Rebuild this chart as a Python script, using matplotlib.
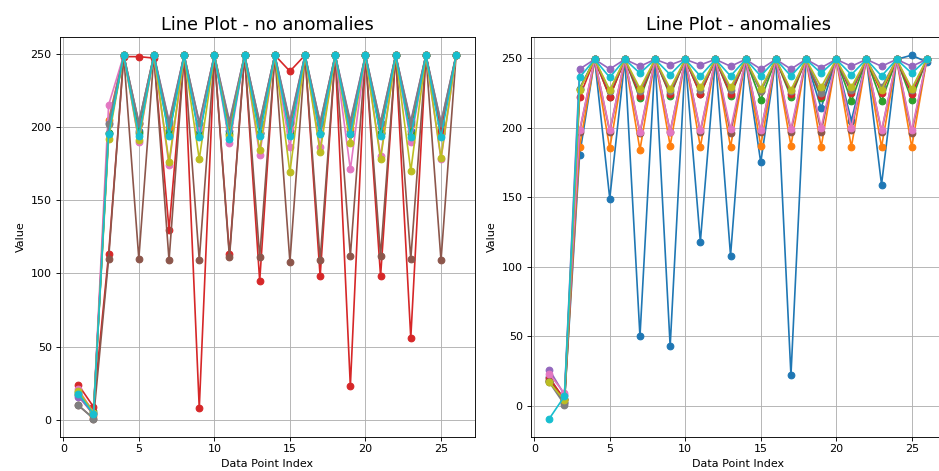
import numpy as np
import matplotlib
matplotlib.use('Agg')
import matplotlib.pyplot as plt

x = list(range(1, 27))

# no anomalies - one list per series (tab10 order)
normal_blue = [17, 5, 196, 249, 197, 249, 198, 249, 196, 249, 197, 249, 196, 249, 197, 249, 196, 249, 197, 249, 196, 249, 197, 249, 196, 249]
normal_orange = [18, 3, 205, 249, 202, 249, 200, 249, 201, 249, 200, 249, 201, 249, 200, 249, 201, 249, 199, 249, 200, 249, 201, 249, 200, 249]
normal_green = [19, 6, 196, 249, 196, 249, 195, 249, 194, 249, 195, 249, 196, 249, 195, 249, 196, 249, 195, 249, 196, 249, 195, 249, 196, 249]
normal_red = [24, 9, 113, 248, 248, 247, 130, 249, 8, 249, 113, 249, 95, 249, 238, 249, 98, 249, 23, 249, 98, 249, 56, 249, 197, 249]
normal_purple = [16, 4, 203, 249, 203, 249, 204, 249, 203, 249, 204, 249, 203, 249, 204, 249, 203, 249, 204, 249, 203, 249, 204, 249, 203, 249]
normal_brown = [10, 1, 110, 249, 110, 249, 109, 249, 109, 249, 111, 249, 111, 249, 108, 249, 109, 249, 112, 249, 112, 249, 110, 249, 109, 249]
normal_pink = [21, 5, 215, 249, 190, 249, 174, 249, 199, 249, 189, 249, 181, 249, 186, 249, 186, 249, 171, 249, 180, 249, 190, 249, 178, 249]
normal_gray = [10, 1, 202, 249, 203, 249, 203, 249, 203, 249, 203, 249, 203, 249, 203, 249, 203, 249, 203, 249, 203, 249, 203, 249, 203, 249]
normal_olive = [20, 5, 192, 249, 191, 249, 176, 249, 178, 249, 194, 249, 184, 249, 169, 249, 183, 249, 189, 249, 178, 249, 170, 249, 179, 249]
normal_cyan = [18, 4, 195, 249, 194, 249, 194, 249, 193, 249, 192, 249, 194, 249, 194, 249, 195, 249, 195, 249, 194, 249, 193, 249, 193, 249]

# anomalies
anom_blue = [21, 3, 180, 249, 149, 249, 50, 249, 43, 249, 118, 249, 108, 249, 175, 249, 22, 249, 214, 249, 205, 249, 159, 249, 252, 247]
anom_orange = [19, 4, 186, 249, 185, 249, 184, 249, 187, 249, 186, 249, 186, 249, 187, 249, 187, 249, 186, 249, 186, 249, 186, 249, 186, 249]
anom_green = [18, 5, 228, 249, 222, 249, 221, 249, 223, 249, 224, 249, 223, 249, 220, 249, 222, 249, 221, 249, 219, 249, 219, 249, 220, 249]
anom_red = [20, 5, 222, 249, 222, 249, 223, 249, 224, 249, 224, 249, 224, 249, 226, 249, 224, 249, 223, 249, 225, 249, 225, 249, 224, 249]
anom_purple = [26, 8, 242, 249, 242, 249, 244, 249, 245, 249, 245, 249, 244, 249, 242, 249, 242, 249, 243, 249, 244, 249, 244, 249, 244, 249]
anom_brown = [18, 2, 197, 249, 197, 249, 196, 249, 197, 249, 197, 249, 196, 249, 197, 249, 197, 249, 197, 249, 198, 249, 197, 249, 196, 249]
anom_pink = [23, 9, 198, 249, 198, 249, 197, 249, 197, 249, 198, 249, 199, 249, 198, 249, 199, 249, 200, 249, 200, 249, 198, 249, 198, 249]
anom_gray = [17, 1, 228, 249, 226, 249, 226, 249, 226, 249, 227, 249, 227, 249, 226, 249, 226, 249, 225, 249, 227, 249, 229, 249, 227, 249]
anom_olive = [17, 4, 227, 249, 227, 249, 228, 249, 228, 249, 229, 249, 229, 249, 228, 249, 227, 249, 229, 249, 229, 249, 227, 249, 228, 249]
anom_cyan = [-9, 7, 236, 249, 236, 249, 239, 249, 238, 249, 237, 249, 237, 249, 237, 249, 237, 249, 239, 249, 238, 249, 237, 249, 239, 249]

normal = [normal_blue, normal_orange, normal_green, normal_red, normal_purple,
          normal_brown, normal_pink, normal_gray, normal_olive, normal_cyan]
anomalies = [anom_blue, anom_orange, anom_green, anom_red, anom_purple,
             anom_brown, anom_pink, anom_gray, anom_olive, anom_cyan]

W, H = 939, 471
fig = plt.figure(figsize=(W / 80, H / 80), dpi=80)

# axes boxes in pixels (left, top, right, bottom); the right one runs past the edge
ax1 = fig.add_axes([59.5 / W, (H - 436.7) / H, (475 - 59.5) / W, (436.7 - 37) / H])
ax2 = fig.add_axes([530.5 / W, (H - 436.7) / H, (945.7 - 530.5) / W, (436.7 - 37) / H])

for s in normal:
    ax1.plot(x, s, marker='o')
ax1.set_title('Line Plot - no anomalies', fontsize=16)
ax1.set_xlabel('Data Point Index')
ax1.set_ylabel('Value')
ax1.grid(True)

for s in anomalies:
    ax2.plot(x, s, marker='o')
ax2.set_title('Line Plot - anomalies', fontsize=16)
ax2.set_xlabel('Data Point Index')
ax2.set_ylabel('Value')
ax2.grid(True)

fig.savefig('out.png', dpi=80)
